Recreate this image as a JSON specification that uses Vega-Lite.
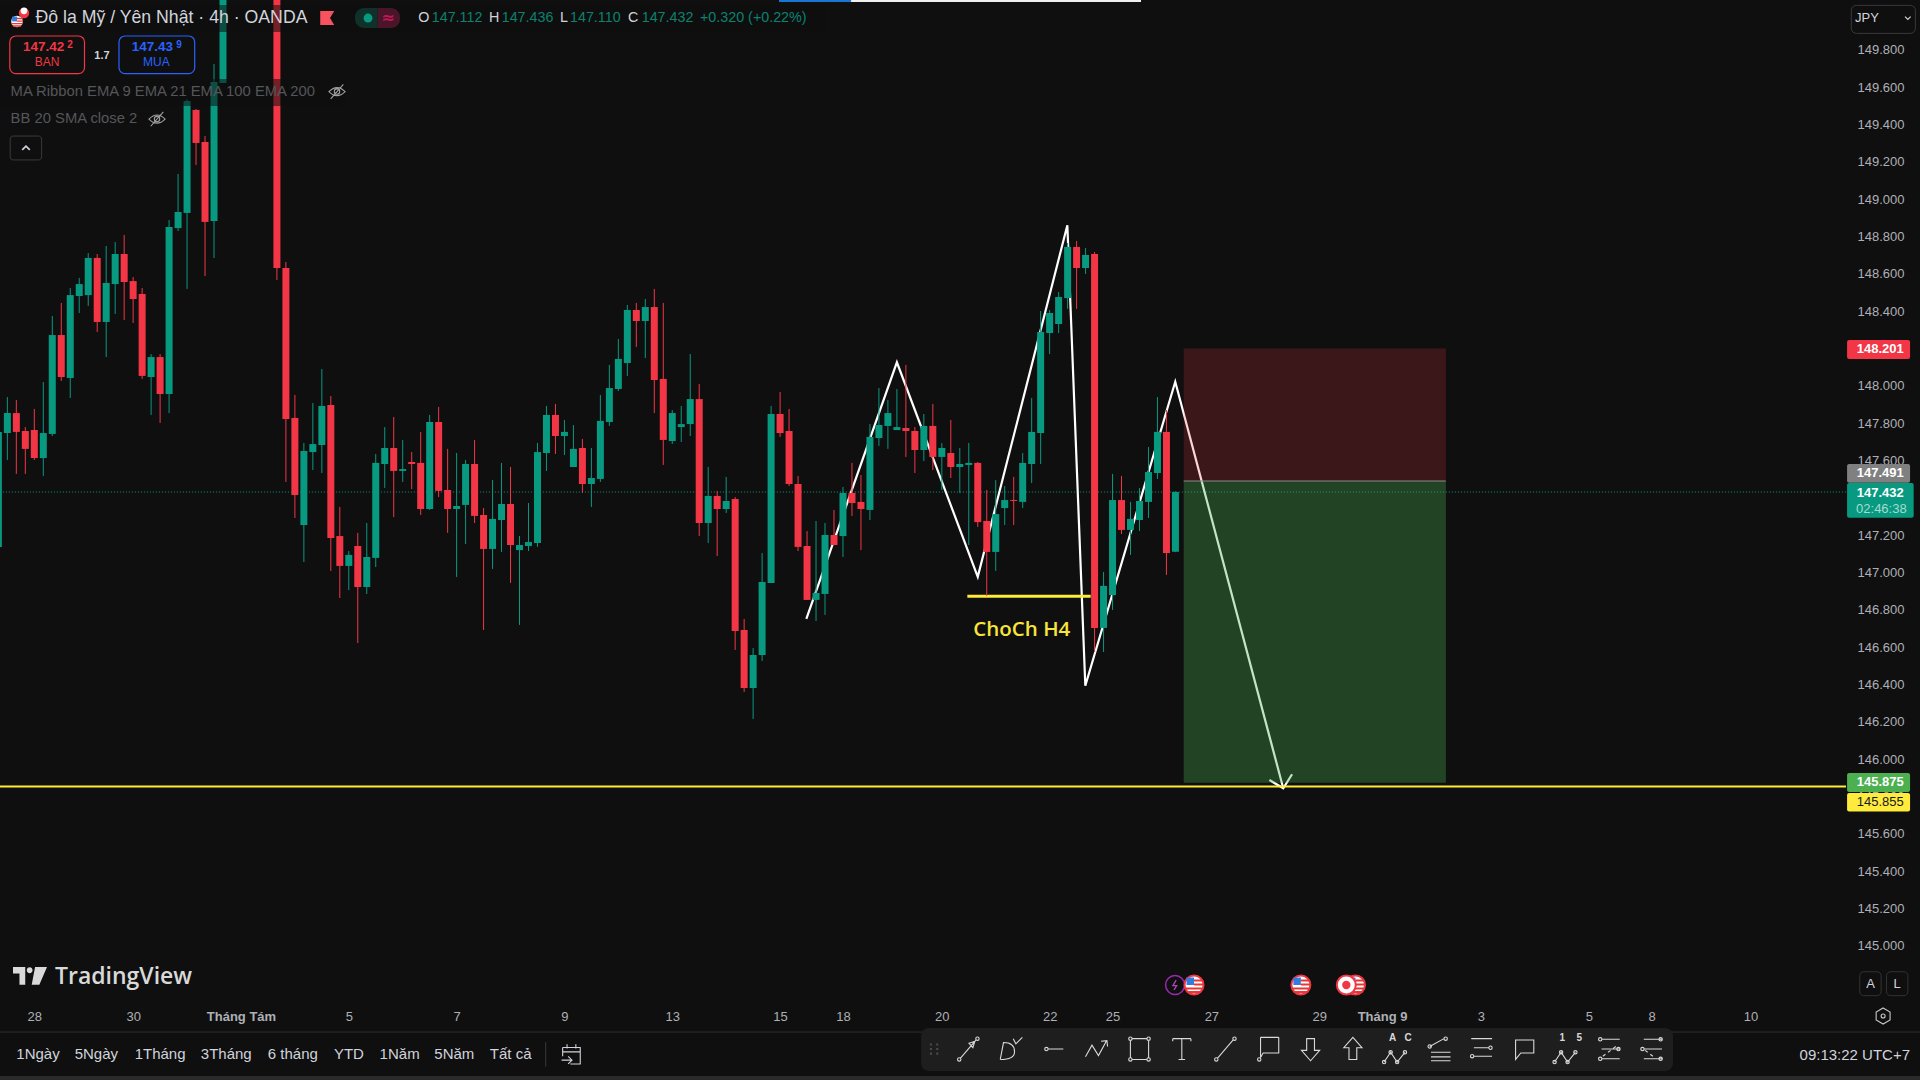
{"$schema":"https://vega.github.io/schema/vega-lite/v6.json","width":1846,"height":1000,"autosize":"none","padding":{"left":0,"top":0,"right":74,"bottom":80},"background":"#0f0f0f","config":{"view":{"stroke":null},"font":"Liberation Sans"},
"datasets":{"ohlc":[
{"i":0,"o":147.138,"h":147.754,"l":147.138,"c":147.754},{"i":1,"o":147.748,"h":147.941,"l":147.604,"c":147.855},{"i":2,"o":147.855,"h":147.925,"l":147.529,"c":147.754},{"i":3,"o":147.759,"h":147.78,"l":147.529,"c":147.663},{"i":4,"o":147.764,"h":147.877,"l":147.604,"c":147.614},{"i":5,"o":147.614,"h":148.021,"l":147.518,"c":147.748},{"i":6,"o":147.743,"h":148.375,"l":147.732,"c":148.273},{"i":7,"o":148.273,"h":148.445,"l":148.027,"c":148.048},{"i":8,"o":148.043,"h":148.525,"l":147.936,"c":148.487},{"i":9,"o":148.482,"h":148.579,"l":148.391,"c":148.546},
{"i":10,"o":148.487,"h":148.712,"l":148.429,"c":148.686},{"i":11,"o":148.686,"h":148.707,"l":148.289,"c":148.343},{"i":12,"o":148.343,"h":148.75,"l":148.155,"c":148.552},{"i":13,"o":148.546,"h":148.771,"l":148.386,"c":148.707},{"i":14,"o":148.707,"h":148.809,"l":148.354,"c":148.557},{"i":15,"o":148.562,"h":148.584,"l":148.338,"c":148.466},{"i":16,"o":148.493,"h":148.525,"l":148.038,"c":148.054},{"i":17,"o":148.048,"h":148.171,"l":147.845,"c":148.155},{"i":18,"o":148.155,"h":148.171,"l":147.802,"c":147.957},{"i":19,"o":147.957,"h":148.889,"l":147.855,"c":148.852},
{"i":20,"o":148.846,"h":149.136,"l":148.83,"c":148.932},{"i":21,"o":148.927,"h":149.537,"l":148.52,"c":149.527},{"i":22,"o":149.479,"h":149.484,"l":149.184,"c":149.302},{"i":23,"o":149.307,"h":149.339,"l":148.589,"c":148.879},{"i":24,"o":148.884,"h":149.725,"l":148.686,"c":149.629},{"i":25,"o":149.623,"h":150.3,"l":149.623,"c":150.2},{"i":31,"o":150.3,"h":150.4,"l":148.568,"c":148.632},{"i":32,"o":148.632,"h":148.664,"l":147.486,"c":147.823},{"i":33,"o":147.829,"h":147.952,"l":147.293,"c":147.416},{"i":34,"o":147.255,"h":147.695,"l":147.057,"c":147.652},
{"i":35,"o":147.646,"h":147.909,"l":147.55,"c":147.689},{"i":36,"o":147.684,"h":148.091,"l":147.534,"c":147.893},{"i":37,"o":147.898,"h":147.946,"l":147.009,"c":147.186},{"i":38,"o":147.196,"h":147.352,"l":146.864,"c":147.036},{"i":39,"o":147.036,"h":147.116,"l":146.907,"c":147.095},{"i":40,"o":147.143,"h":147.213,"l":146.623,"c":146.923},{"i":41,"o":146.923,"h":147.266,"l":146.886,"c":147.084},{"i":42,"o":147.079,"h":147.636,"l":147.03,"c":147.588},{"i":43,"o":147.582,"h":147.78,"l":147.454,"c":147.668},{"i":44,"o":147.668,"h":147.834,"l":147.298,"c":147.545},
{"i":45,"o":147.545,"h":147.711,"l":147.486,"c":147.555},{"i":46,"o":147.593,"h":147.646,"l":147.448,"c":147.582},{"i":47,"o":147.588,"h":147.754,"l":147.309,"c":147.341},{"i":48,"o":147.341,"h":147.845,"l":147.336,"c":147.807},{"i":49,"o":147.807,"h":147.888,"l":147.405,"c":147.438},{"i":50,"o":147.443,"h":147.663,"l":147.213,"c":147.341},{"i":51,"o":147.341,"h":147.641,"l":146.977,"c":147.357},{"i":52,"o":147.363,"h":147.604,"l":147.154,"c":147.582},{"i":53,"o":147.582,"h":147.711,"l":147.266,"c":147.304},{"i":54,"o":147.309,"h":147.346,"l":146.693,"c":147.127},
{"i":55,"o":147.127,"h":147.496,"l":147.02,"c":147.288},{"i":56,"o":147.282,"h":147.588,"l":147.111,"c":147.368},{"i":57,"o":147.368,"h":147.566,"l":146.945,"c":147.148},{"i":58,"o":147.121,"h":147.196,"l":146.72,"c":147.148},{"i":59,"o":147.143,"h":147.373,"l":147.116,"c":147.164},{"i":60,"o":147.159,"h":147.695,"l":147.138,"c":147.646},{"i":61,"o":147.641,"h":147.893,"l":147.545,"c":147.845},{"i":62,"o":147.845,"h":147.904,"l":147.636,"c":147.732},{"i":63,"o":147.732,"h":147.818,"l":147.63,"c":147.754},{"i":64,"o":147.566,"h":147.791,"l":147.566,"c":147.663},
{"i":65,"o":147.668,"h":147.716,"l":147.427,"c":147.475},{"i":66,"o":147.475,"h":147.668,"l":147.352,"c":147.507},{"i":67,"o":147.502,"h":147.952,"l":147.486,"c":147.813},{"i":68,"o":147.807,"h":148.113,"l":147.786,"c":147.989},{"i":69,"o":147.984,"h":148.252,"l":147.973,"c":148.145},{"i":70,"o":148.123,"h":148.434,"l":148.054,"c":148.407},{"i":71,"o":148.407,"h":148.445,"l":148.209,"c":148.348},{"i":72,"o":148.348,"h":148.466,"l":148.15,"c":148.423},{"i":73,"o":148.423,"h":148.52,"l":147.855,"c":148.032},{"i":74,"o":148.038,"h":148.445,"l":147.577,"c":147.711},
{"i":75,"o":147.705,"h":147.871,"l":147.689,"c":147.855},{"i":76,"o":147.78,"h":147.893,"l":147.7,"c":147.796},{"i":77,"o":147.796,"h":148.171,"l":147.732,"c":147.93},{"i":78,"o":147.93,"h":148.011,"l":147.196,"c":147.266},{"i":79,"o":147.266,"h":147.566,"l":147.159,"c":147.411},{"i":80,"o":147.411,"h":147.438,"l":147.089,"c":147.341},{"i":81,"o":147.341,"h":147.513,"l":147.32,"c":147.384},{"i":82,"o":147.395,"h":147.405,"l":146.586,"c":146.688},{"i":83,"o":146.693,"h":146.752,"l":146.361,"c":146.382},{"i":84,"o":146.382,"h":146.596,"l":146.216,"c":146.559},
{"i":85,"o":146.559,"h":147.105,"l":146.527,"c":146.95},{"i":86,"o":146.945,"h":147.893,"l":146.945,"c":147.85},{"i":87,"o":147.85,"h":147.968,"l":147.727,"c":147.748},{"i":88,"o":147.759,"h":147.877,"l":147.464,"c":147.475},{"i":89,"o":147.475,"h":147.518,"l":147.116,"c":147.138},{"i":90,"o":147.143,"h":147.223,"l":146.854,"c":146.854},{"i":91,"o":146.854,"h":147.277,"l":146.741,"c":146.891},{"i":92,"o":146.886,"h":147.266,"l":146.773,"c":147.202},{"i":93,"o":147.202,"h":147.336,"l":147.148,"c":147.148},{"i":94,"o":147.196,"h":147.459,"l":147.084,"c":147.427},
{"i":95,"o":147.427,"h":147.588,"l":147.304,"c":147.373},{"i":96,"o":147.379,"h":147.523,"l":147.121,"c":147.341},{"i":97,"o":147.336,"h":147.796,"l":147.282,"c":147.727},{"i":98,"o":147.721,"h":147.989,"l":147.679,"c":147.791},{"i":99,"o":147.786,"h":147.925,"l":147.663,"c":147.855},{"i":100,"o":147.764,"h":147.984,"l":147.764,"c":147.78},{"i":101,"o":147.775,"h":148.113,"l":147.62,"c":147.759},{"i":102,"o":147.759,"h":147.78,"l":147.534,"c":147.657},{"i":103,"o":147.657,"h":147.85,"l":147.598,"c":147.786},{"i":104,"o":147.786,"h":147.904,"l":147.55,"c":147.62},
{"i":105,"o":147.62,"h":147.695,"l":147.443,"c":147.668},{"i":106,"o":147.641,"h":147.818,"l":147.507,"c":147.566},{"i":107,"o":147.566,"h":147.668,"l":147.427,"c":147.582},{"i":108,"o":147.577,"h":147.695,"l":147.148,"c":147.588},{"i":109,"o":147.588,"h":147.593,"l":147.245,"c":147.271},{"i":110,"o":147.277,"h":147.443,"l":146.875,"c":147.111},{"i":111,"o":147.111,"h":147.496,"l":147.009,"c":147.314},{"i":112,"o":147.346,"h":147.464,"l":147.255,"c":147.389},{"i":113,"o":147.389,"h":147.513,"l":147.255,"c":147.384},{"i":114,"o":147.379,"h":147.641,"l":147.346,"c":147.588},
{"i":115,"o":147.582,"h":147.936,"l":147.48,"c":147.754},{"i":116,"o":147.748,"h":148.402,"l":147.582,"c":148.289},{"i":117,"o":148.284,"h":148.407,"l":148.171,"c":148.391},{"i":118,"o":148.332,"h":148.504,"l":148.284,"c":148.477},{"i":119,"o":148.471,"h":148.766,"l":148.413,"c":148.745},{"i":120,"o":148.745,"h":148.777,"l":148.413,"c":148.632},{"i":121,"o":148.632,"h":148.739,"l":148.6,"c":148.702},{"i":122,"o":148.707,"h":148.718,"l":146.575,"c":146.704},{"i":123,"o":146.704,"h":147.004,"l":146.575,"c":146.929},{"i":124,"o":146.88,"h":147.529,"l":146.8,"c":147.389},
{"i":125,"o":147.389,"h":147.518,"l":147.207,"c":147.229},{"i":126,"o":147.229,"h":147.379,"l":147.095,"c":147.288},{"i":127,"o":147.282,"h":147.454,"l":147.223,"c":147.384},{"i":128,"o":147.379,"h":147.673,"l":147.293,"c":147.539},{"i":129,"o":147.534,"h":147.941,"l":147.502,"c":147.754},{"i":130,"o":147.754,"h":147.871,"l":146.988,"c":147.105},{"i":131,"o":147.112,"h":147.436,"l":147.11,"c":147.432}
]},
"encoding":{
"x":{"field":"i","type":"quantitative","title":null,"scale":{"domain":[0.1814,205.63],"nice":false,"zero":false,"padding":0},"axis":{"orient":"bottom","values":[4,15,27,39,51,63,75,87,94,105,117,124,135,147,154,165,177,184,195],"labelExpr":"{4:'28',15:'30',27:'Tháng Tám',39:'5',51:'7',63:'9',75:'13',87:'15',94:'18',105:'20',117:'22',124:'25',135:'27',147:'29',154:'Tháng 9',165:'3',177:'5',184:'8',195:'10'}[datum.value]","labelFontWeight":{"condition":{"test":"datum.value==27||datum.value==154","value":"bold"},"value":"normal"},"domain":false,"ticks":false,"grid":false,"labelColor":"#aeb0b6","labelFontSize":13,"labelPadding":10,"labelOverlap":false,"labelBound":false,"labelFlush":false,"labelFont":"Liberation Sans"}},
"y":{"field":"p","type":"quantitative","title":null,"scale":{"domain":[144.7107,150.0678],"nice":false,"zero":false,"padding":0},"axis":{"orient":"right","values":[145,145.2,145.4,145.6,145.8,146,146.2,146.4,146.6,146.8,147,147.2,147.4,147.6,147.8,148,148.2,148.4,148.6,148.8,149,149.2,149.4,149.6,149.8],"format":".3f","domain":false,"ticks":false,"grid":false,"labelColor":"#aeb0b6","labelFontSize":13,"labelPadding":11,"labelOverlap":false,"labelBound":false,"labelFlush":false,"labelFont":"Liberation Sans"}}
},
"layer":[
{"data":{"values":[{"i":0.5,"i2":205.63,"p":147.432}]},"mark":{"type":"rule","color":"#089981","strokeWidth":1,"strokeDash":[1,2]},"encoding":{"x2":{"field":"i2"}}},
{"data":{"values":[{"k":1,"seg":"z","i":89.92,"p":146.752},{"k":2,"seg":"z","i":100,"p":148.127},{"k":3,"seg":"z","i":109,"p":146.978},{"k":4,"seg":"z","i":118.97,"p":148.861},{"k":5,"seg":"z","i":120.97,"p":146.394},{"k":6,"seg":"z","i":130.98,"p":148.023},{"k":7,"seg":"z","i":143,"p":145.845},{"k":1,"seg":"h","i":141.46,"p":145.889},{"k":2,"seg":"h","i":143,"p":145.845},{"k":3,"seg":"h","i":143.98,"p":145.92}]},"mark":{"type":"line","color":"#ffffff","strokeWidth":2.2,"strokeJoin":"miter"},"encoding":{"detail":{"field":"seg"},"order":{"field":"k"}}},
{"data":{"values":[{"i":131.92,"i2":161.1,"p":148.201,"p2":147.491}]},"mark":{"type":"rect","fill":"#f23645","opacity":0.2},"encoding":{"x2":{"field":"i2"},"y2":{"field":"p2"}}},
{"data":{"values":[{"i":131.92,"i2":161.1,"p":147.491,"p2":145.875}]},"mark":{"type":"rect","fill":"#4caf50","opacity":0.33},"encoding":{"x2":{"field":"i2"},"y2":{"field":"p2"}}},
{"data":{"values":[{"i":131.92,"i2":161.1,"p":147.491}]},"mark":{"type":"rule","color":"#8a8a8a","strokeWidth":1},"encoding":{"x2":{"field":"i2"}}},
{"data":{"values":[{"i":107.84,"i2":121.57,"p":146.873}]},"mark":{"type":"rule","color":"#ffeb3b","strokeWidth":3},"encoding":{"x2":{"field":"i2"}}},
{"data":{"values":[{"i":0.1814,"i2":205.63,"p":145.855}]},"mark":{"type":"rule","color":"#ffeb3b","strokeWidth":2},"encoding":{"x2":{"field":"i2"}}},
{"data":{"name":"ohlc"},"mark":{"type":"rule","strokeWidth":1,"clip":true},"encoding":{"y":{"field":"l","type":"quantitative","title":null,"scale":{"domain":[144.7107,150.0678],"nice":false,"zero":false,"padding":0},"axis":{"orient":"right","values":[145,145.2,145.4,145.6,145.8,146,146.2,146.4,146.6,146.8,147,147.2,147.4,147.6,147.8,148,148.2,148.4,148.6,148.8,149,149.2,149.4,149.6,149.8],"format":".3f","domain":false,"ticks":false,"grid":false,"labelColor":"#aeb0b6","labelFontSize":13,"labelPadding":11,"labelOverlap":false,"labelBound":false,"labelFlush":false,"labelFont":"Liberation Sans"}},"y2":{"field":"h"},"color":{"condition":{"test":"datum.c>=datum.o","value":"#089981"},"value":"#f23645"}}},
{"data":{"name":"ohlc"},"mark":{"type":"bar","size":7,"clip":true},"encoding":{"y":{"field":"o","type":"quantitative","stack":null,"title":null,"scale":{"domain":[144.7107,150.0678],"nice":false,"zero":false,"padding":0},"axis":{"orient":"right","values":[145,145.2,145.4,145.6,145.8,146,146.2,146.4,146.6,146.8,147,147.2,147.4,147.6,147.8,148,148.2,148.4,148.6,148.8,149,149.2,149.4,149.6,149.8],"format":".3f","domain":false,"ticks":false,"grid":false,"labelColor":"#aeb0b6","labelFontSize":13,"labelPadding":11,"labelOverlap":false,"labelBound":false,"labelFlush":false,"labelFont":"Liberation Sans"}},"y2":{"field":"c"},"color":{"condition":{"test":"datum.c>=datum.o","value":"#089981"},"value":"#f23645"}}},
{"data":{"values":[{"i":108.5,"p":146.692,"t":"ChoCh H4"}]},"mark":{"type":"text","align":"left","baseline":"middle","font":"Open Sans","fontSize":20.5,"fontWeight":600,"color":"#f7e53b"},"encoding":{"text":{"field":"t"}}},
{"data":{"values":[{"i":0.1814,"i2":92,"p":150.041,"p2":149.896},{"i":0.1814,"i2":38.7,"p":149.645,"p2":149.5}]},"mark":{"type":"rect","fill":"#0f0f0f","opacity":0.55},"encoding":{"x2":{"field":"i2"},"y2":{"field":"p2"}}},
{"data":{"values":[{"i":86.88,"i2":94.9,"p":150.068,"p2":150.057}]},"mark":{"type":"rect","fill":"#1976d2"},"encoding":{"x2":{"field":"i2"},"y2":{"field":"p2"}}},
{"data":{"values":[{"i":94.9,"i2":127.17,"p":150.068,"p2":150.057}]},"mark":{"type":"rect","fill":"#f0f0f0"},"encoding":{"x2":{"field":"i2"},"y2":{"field":"p2"}}},
{"data":{"values":[{"i":0.1814,"i2":213.87,"p":144.539}]},"mark":{"type":"rule","color":"#2e2e2e","strokeWidth":1},"encoding":{"x2":{"field":"i2"}}},
{"data":{"values":[{"i":0.1814,"i2":213.87,"p":144.303,"p2":144.282}]},"mark":{"type":"rect","fill":"#2a2a2a"},"encoding":{"x2":{"field":"i2"},"y2":{"field":"p2"}}},
{"data":{"values":[{"i":102.69,"i2":186.38,"p":144.561,"p2":144.33}]},"mark":{"type":"rect","fill":"#1e1e1e","cornerRadius":8},"encoding":{"x2":{"field":"i2"},"y2":{"field":"p2"}}},
{"data":{"values":[{"i":60.92,"p":144.486,"p2":144.354}]},"mark":{"type":"rule","color":"#3a3a3a","strokeWidth":1},"encoding":{"y2":{"field":"p2"}}},
{"data":{"values":[{"i":205.75,"i2":212.76,"p":148.246,"p2":148.145}]},"mark":{"type":"rect","fill":"#f23645","cornerRadius":2},"encoding":{"x2":{"field":"i2"},"y2":{"field":"p2"}}},
{"data":{"values":[{"i":205.75,"i2":212.76,"p":147.582,"p2":147.482}]},"mark":{"type":"rect","fill":"#808080","cornerRadius":2},"encoding":{"x2":{"field":"i2"},"y2":{"field":"p2"}}},
{"data":{"values":[{"i":205.75,"i2":213.16,"p":147.48,"p2":147.294}]},"mark":{"type":"rect","fill":"#089981","cornerRadius":2},"encoding":{"x2":{"field":"i2"},"y2":{"field":"p2"}}},
{"data":{"values":[{"i":205.75,"i2":212.76,"p":145.927,"p2":145.825}]},"mark":{"type":"rect","fill":"#4caf50","cornerRadius":2},"encoding":{"x2":{"field":"i2"},"y2":{"field":"p2"}}},
{"data":{"values":[{"i":205.75,"i2":212.76,"p":145.82,"p2":145.72}]},"mark":{"type":"rect","fill":"#ffeb3b","cornerRadius":2},"encoding":{"x2":{"field":"i2"},"y2":{"field":"p2"}}},
{"data":{"values":[{"i":206.83,"p":148.196,"t":"148.201"},{"i":206.83,"p":147.534,"t":"147.491"},{"i":206.83,"p":147.427,"t":"147.432"},{"i":206.83,"p":145.876,"t":"145.875"}]},"mark":{"type":"text","align":"left","baseline":"middle","fontSize":13,"fontWeight":"bold","color":"#ffffff"},"encoding":{"text":{"field":"t"}}},
{"data":{"values":[{"i":206.83,"p":145.771,"t":"145.855"}]},"mark":{"type":"text","align":"left","baseline":"middle","fontSize":13,"color":"#131722"},"encoding":{"text":{"field":"t"}}},
{"data":{"values":[{"i":206.75,"p":147.341,"t":"02:46:38"}]},"mark":{"type":"text","align":"left","baseline":"middle","fontSize":13,"color":"#a5dccf"},"encoding":{"text":{"field":"t"}}},
{"data":{"values":[{"i":4.132,"p":149.971,"t":"Đô la Mỹ / Yên Nhật · 4h · OANDA"}]},"mark":{"type":"text","align":"left","baseline":"middle","fontSize":17.7,"color":"#d1d4dc"},"encoding":{"text":{"field":"t"}}},
{"data":{"values":[{"i":46.74,"p":149.971,"t":"O"},{"i":54.61,"p":149.971,"t":"H"},{"i":62.51,"p":149.971,"t":"L"},{"i":70.08,"p":149.971,"t":"C"}]},"mark":{"type":"text","align":"left","baseline":"middle","fontSize":14.3,"color":"#d1d4dc"},"encoding":{"text":{"field":"t"}}},
{"data":{"values":[{"i":48.23,"p":149.971,"t":"147.112"},{"i":56.02,"p":149.971,"t":"147.436"},{"i":63.62,"p":149.971,"t":"147.110"},{"i":71.6,"p":149.971,"t":"147.432"},{"i":78.09,"p":149.971,"t":"+0.320 (+0.22%)"}]},"mark":{"type":"text","align":"left","baseline":"middle","fontSize":14.3,"color":"#0b8270"},"encoding":{"text":{"field":"t"}}},
{"data":{"values":[{"i":36.6,"p":149.971}]},"mark":{"type":"point","filled":true,"opacity":1,"shape":"M-1,-1L1,-1L.4,0L1,1L-1,1Z","size":196,"color":"#f7525f"}},
{"data":{"values":[{"i":39.69,"i2":42.2,"p":150.025,"p2":149.918}]},"mark":{"type":"rect","fill":"#10302a","cornerRadiusTopLeft":9,"cornerRadiusBottomLeft":9},"encoding":{"x2":{"field":"i2"},"y2":{"field":"p2"}}},
{"data":{"values":[{"i":42.2,"i2":44.7,"p":150.025,"p2":149.918}]},"mark":{"type":"rect","fill":"#4b1529","cornerRadiusTopRight":9,"cornerRadiusBottomRight":9},"encoding":{"x2":{"field":"i2"},"y2":{"field":"p2"}}},
{"data":{"values":[{"i":41.14,"p":149.971}]},"mark":{"type":"point","filled":true,"opacity":1,"shape":"circle","size":80,"color":"#089981"}},
{"data":{"values":[{"i":43.37,"p":149.971,"t":"≈"}]},"mark":{"type":"text","align":"center","baseline":"middle","fontSize":16,"fontWeight":"bold","color":"#c2185b","font":"DejaVu Sans"},"encoding":{"text":{"field":"t"}}},
{"data":{"values":[{"i":1.272,"i2":9.586,"p":149.875,"p2":149.673}]},"mark":{"type":"rect","fill":"#0f0f0f","stroke":"#f23645","strokeWidth":1.2,"cornerRadius":6},"encoding":{"x2":{"field":"i2"},"y2":{"field":"p2"}}},
{"data":{"values":[{"i":13.426,"i2":21.85,"p":149.875,"p2":149.673}]},"mark":{"type":"rect","fill":"#0f0f0f","stroke":"#2962ff","strokeWidth":1.2,"cornerRadius":6},"encoding":{"x2":{"field":"i2"},"y2":{"field":"p2"}}},
{"data":{"values":[{"i":2.73,"p":149.816,"t":"147.42"}]},"mark":{"type":"text","align":"left","baseline":"middle","fontSize":13.5,"fontWeight":"bold","color":"#f23645"},"encoding":{"text":{"field":"t"}}},
{"data":{"values":[{"i":7.67,"p":149.825,"t":"2"}]},"mark":{"type":"text","align":"left","baseline":"middle","fontSize":10,"fontWeight":"bold","color":"#f23645"},"encoding":{"text":{"field":"t"}}},
{"data":{"values":[{"i":5.412,"p":149.737,"t":"BAN"}]},"mark":{"type":"text","align":"center","baseline":"middle","fontSize":12,"color":"#f23645"},"encoding":{"text":{"field":"t"}}},
{"data":{"values":[{"i":14.85,"p":149.816,"t":"147.43"}]},"mark":{"type":"text","align":"left","baseline":"middle","fontSize":13.5,"fontWeight":"bold","color":"#2962ff"},"encoding":{"text":{"field":"t"}}},
{"data":{"values":[{"i":19.8,"p":149.825,"t":"9"}]},"mark":{"type":"text","align":"left","baseline":"middle","fontSize":10,"fontWeight":"bold","color":"#2962ff"},"encoding":{"text":{"field":"t"}}},
{"data":{"values":[{"i":17.58,"p":149.737,"t":"MUA"}]},"mark":{"type":"text","align":"center","baseline":"middle","fontSize":12,"color":"#2962ff"},"encoding":{"text":{"field":"t"}}},
{"data":{"values":[{"i":11.534,"p":149.768,"t":"1.7"}]},"mark":{"type":"text","align":"center","baseline":"middle","fontSize":11,"fontWeight":"bold","color":"#d1d4dc"},"encoding":{"text":{"field":"t"}}},
{"data":{"values":[{"i":1.361,"p":149.577,"t":"MA Ribbon EMA 9 EMA 21 EMA 100 EMA 200"},{"i":1.361,"p":149.43,"t":"BB 20 SMA close 2"}]},"mark":{"type":"text","align":"left","baseline":"middle","fontSize":14.8,"color":"#55565a"},"encoding":{"text":{"field":"t"}}},
{"data":{"values":[{"i":37.69,"p":149.577},{"i":17.656,"p":149.43}]},"mark":{"type":"point","filled":false,"opacity":1,"shape":"M-.9,0Q0,-.9 .9,0Q0,.9 -.9,0ZM-.3,0a.3,.3 0 1,0 .6,0a.3,.3 0 1,0 -.6,0ZM-.7,.8L.7,-.8","size":324,"color":"#a0a0a0","strokeWidth":1.1}},
{"data":{"values":[{"i":1.317,"i2":4.811,"p":149.339,"p2":149.211}]},"mark":{"type":"rect","fill":"#0f0f0f","stroke":"#3a3a3a","strokeWidth":1,"cornerRadius":3},"encoding":{"x2":{"field":"i2"},"y2":{"field":"p2"}}},
{"data":{"values":[{"i":3.075,"p":149.275}]},"mark":{"type":"point","filled":false,"opacity":1,"shape":"M-.8,.4L0,-.4L.8,.4","size":90,"color":"#d1d4dc","strokeWidth":1.6}},
{"data":{"values":[{"i":2.853,"p":149.998}]},"mark":{"type":"point","filled":true,"opacity":1,"shape":"circle","size":110,"color":"#f23645"}},
{"data":{"values":[{"i":2.853,"p":150.01}]},"mark":{"type":"point","filled":true,"opacity":1,"shape":"circle","size":45,"color":"#ffffff"}},
{"data":{"values":[{"i":2.073,"p":149.953}]},"mark":{"type":"point","filled":true,"opacity":1,"shape":"circle","size":133,"color":"#ffffff"}},
{"data":{"values":[{"i":2.073,"p":149.953}]},"mark":{"type":"point","filled":true,"opacity":1,"shape":"M-.75,-.75L0,-.75L0,0L-.75,0Z","size":169,"color":"#2f7de1"}},
{"data":{"values":[{"i":2.073,"p":149.953}]},"mark":{"type":"point","filled":true,"opacity":1,"shape":"M0,-.55L.9,-.55L.9,-.35L0,-.35ZM0,-.15L.95,-.15L.95,.05L0,.05ZM-.9,.25L.9,.25L.9,.45L-.9,.45ZM-.65,.6L.65,.6L.65,.8L-.65,.8Z","size":169,"color":"#e53935"}},
{"data":{"values":[{"i":130.96,"p":144.791}]},"mark":{"type":"point","filled":true,"opacity":1,"shape":"circle","size":360,"fill":"#0f0f0f","stroke":"#9c27b0","strokeWidth":1.5}},
{"data":{"values":[{"i":130.96,"p":144.791}]},"mark":{"type":"point","filled":false,"opacity":1,"shape":"M.2,-.9L-.4,.1L.3,.1L-.2,.9","size":120,"color":"#ab47bc","strokeWidth":1.3}},
{"data":{"values":[{"i":133.07,"p":144.791},{"i":144.96,"p":144.791},{"i":151.04,"p":144.791}]},"mark":{"type":"point","filled":true,"opacity":1,"shape":"circle","size":360,"fill":"#ffffff","stroke":"#f23645","strokeWidth":2}},
{"data":{"values":[{"i":133.07,"p":144.791},{"i":144.96,"p":144.791},{"i":151.04,"p":144.791}]},"mark":{"type":"point","filled":true,"opacity":1,"shape":"M-.75,-.75L0,-.75L0,0L-.75,0Z","size":400,"color":"#2f7de1"}},
{"data":{"values":[{"i":133.07,"p":144.791},{"i":144.96,"p":144.791},{"i":151.04,"p":144.791}]},"mark":{"type":"point","filled":true,"opacity":1,"shape":"M0,-.55L.9,-.55L.9,-.35L0,-.35ZM0,-.15L.95,-.15L.95,.05L0,.05ZM-.9,.25L.9,.25L.9,.45L-.9,.45ZM-.65,.6L.65,.6L.65,.8L-.65,.8Z","size":400,"color":"#e53935"}},
{"data":{"values":[{"i":150.02,"p":144.791}]},"mark":{"type":"point","filled":true,"opacity":1,"shape":"circle","size":360,"fill":"#ffffff","stroke":"#f23645","strokeWidth":2}},
{"data":{"values":[{"i":150.02,"p":144.791}]},"mark":{"type":"point","filled":true,"opacity":1,"shape":"circle","size":70,"color":"#f23645"}},
{"data":{"values":[{"i":3.52,"p":144.84}]},"mark":{"type":"point","filled":true,"opacity":1,"shape":"M-1,-.52L-.28,-.52L-.28,.52L-.62,.52L-.62,-.14L-1,-.14ZM-.19,-.33a.17,.17 0 1,0 .34,0a.17,.17 0 1,0 -.34,0ZM.3,-.52L1,-.52L.55,.52L.1,.52Z","size":1156,"color":"#d9d9d9"}},
{"data":{"values":[{"i":6.303,"p":144.836,"t":"TradingView"}]},"mark":{"type":"text","align":"left","baseline":"middle","font":"Open Sans","fontSize":23,"fontWeight":600,"color":"#d9d9d9"},"encoding":{"text":{"field":"t"}}},
{"data":{"values":[{"i":1.996,"p":144.42,"t":"1Ngày"},{"i":8.495,"p":144.42,"t":"5Ngày"},{"i":15.17,"p":144.42,"t":"1Tháng"},{"i":22.53,"p":144.42,"t":"3Tháng"},{"i":29.99,"p":144.42,"t":"6 tháng"},{"i":37.34,"p":144.42,"t":"YTD"},{"i":42.43,"p":144.42,"t":"1Năm"},{"i":48.52,"p":144.42,"t":"5Năm"},{"i":54.7,"p":144.42,"t":"Tất cả"}]},"mark":{"type":"text","align":"left","baseline":"middle","fontSize":15,"color":"#d1d4dc"},"encoding":{"text":{"field":"t"}}},
{"data":{"values":[{"i":63.78,"p":144.421}]},"mark":{"type":"point","filled":false,"opacity":1,"shape":"M-.8,-.6L.8,-.6L.8,.9L-.1,.9M-.8,-.6L-.8,.2M-.8,-.2L.8,-.2M-.4,-.9L-.4,-.5M.4,-.9L.4,-.5M-.9,.55L0,.55M-.3,.2L.05,.55L-.3,.9","size":484,"color":"#d1d4dc","strokeWidth":1.1}},
{"data":{"values":[{"i":212.76,"p":144.416,"t":"09:13:22 UTC+7"}]},"mark":{"type":"text","align":"right","baseline":"middle","fontSize":15,"color":"#d1d4dc"},"encoding":{"text":{"field":"t"}}},
{"data":{"values":[{"i":207.16,"i2":209.54,"p":144.862,"p2":144.734},{"i":210.14,"i2":212.52,"p":144.862,"p2":144.734}]},"mark":{"type":"rect","fill":"#0f0f0f","stroke":"#333333","strokeWidth":1,"cornerRadius":4},"encoding":{"x2":{"field":"i2"},"y2":{"field":"p2"}}},
{"data":{"values":[{"i":208.36,"p":144.796,"t":"A"},{"i":211.32,"p":144.796,"t":"L"}]},"mark":{"type":"text","align":"center","baseline":"middle","fontSize":13,"color":"#d1d4dc"},"encoding":{"text":{"field":"t"}}},
{"data":{"values":[{"i":209.76,"p":144.625}]},"mark":{"type":"point","filled":false,"opacity":1,"shape":"M0,-1L.87,-.5L.87,.5L0,1L-.87,.5L-.87,-.5ZM-.25,0a.25,.25 0 1,0 .5,0a.25,.25 0 1,0 -.5,0Z","size":256,"color":"#c8c8c8","strokeWidth":1.1}},
{"data":{"values":[{"i":206.22,"i2":213.35,"p":150.039,"p2":149.889}]},"mark":{"type":"rect","fill":"#0f0f0f","stroke":"#3a3a3a","strokeWidth":1,"cornerRadius":5},"encoding":{"x2":{"field":"i2"},"y2":{"field":"p2"}}},
{"data":{"values":[{"i":206.64,"p":149.971,"t":"JPY"}]},"mark":{"type":"text","align":"left","baseline":"middle","fontSize":13,"color":"#d1d4dc"},"encoding":{"text":{"field":"t"}}},
{"data":{"values":[{"i":212.51,"p":149.971}]},"mark":{"type":"point","filled":false,"opacity":1,"shape":"M-.8,-.4L0,.4L.8,-.4","size":49,"color":"#d1d4dc","strokeWidth":1.2}},
{"data":{"values":[{"i":104.14,"p":144.448}]},"mark":{"type":"point","filled":true,"opacity":1,"shape":"M-.6,-.8h.3v.3h-.3ZM.3,-.8h.3v.3h-.3ZM-.6,-.15h.3v.3h-.3ZM.3,-.15h.3v.3h-.3ZM-.6,.5h.3v.3h-.3ZM.3,.5h.3v.3h-.3Z","size":196,"color":"#4a4a4a"}},
{"data":{"values":[{"i":107.95,"p":144.448,"t":"arrow"},{"i":112.66,"p":144.448,"t":"brush"},{"i":117.51,"p":144.448,"t":"ray"},{"i":122.29,"p":144.448,"t":"path"},{"i":127,"p":144.448,"t":"rect"},{"i":131.71,"p":144.448,"t":"text"},{"i":136.56,"p":144.448,"t":"line"},{"i":141.34,"p":144.448,"t":"note"},{"i":146.04,"p":144.448,"t":"down"},{"i":150.75,"p":144.448,"t":"up"},{"i":155.53,"p":144.42,"t":"abcd"},{"i":160.31,"p":144.448,"t":"fib"},{"i":165.08,"p":144.448,"t":"channel"},{"i":169.87,"p":144.448,"t":"comment"},{"i":174.5,"p":144.42,"t":"wave"},{"i":179.29,"p":144.448,"t":"pitch1"},{"i":183.99,"p":144.448,"t":"pitch2"}]},"mark":{"type":"point","filled":false,"opacity":1,"size":676,"color":"#d9d9d9","strokeWidth":1.1},"encoding":{"shape":{"field":"t","type":"nominal","legend":null,"scale":{"domain":["arrow","brush","ray","path","rect","text","line","note","down","up","abcd","fib","channel","comment","wave","pitch1","pitch2"],"range":[
"M-.83,.8a.13,.13 0 1,0 .26,0a.13,.13 0 1,0 -.26,0M-.6,.7L.6,-.7M.57,-.8a.13,.13 0 1,0 .26,0a.13,.13 0 1,0 -.26,0M.05,-.45L.5,-.6L.35,-.1Z",
"M-.8,.8L-.55,-.5Q.3,-.5 .3,.2Q.3,.8 -.8,.8M.2,-.8L.4,-.4L.9,-.9",
"M-.73,0a.13,.13 0 1,0 .26,0a.13,.13 0 1,0 -.26,0M-.47,0L.7,0",
"M-.9,.6L-.4,-.3L.1,.5L.7,-.6M.3,-.6L.75,-.65L.8,-.2",
"M-.6,-.8L.6,-.8M.7,-.7L.7,.7M.6,.8L-.6,.8M-.7,.7L-.7,-.7M-.83,-.8a.13,.13 0 1,0 .26,0a.13,.13 0 1,0 -.26,0M.57,-.8a.13,.13 0 1,0 .26,0a.13,.13 0 1,0 -.26,0M.57,.8a.13,.13 0 1,0 .26,0a.13,.13 0 1,0 -.26,0M-.83,.8a.13,.13 0 1,0 .26,0a.13,.13 0 1,0 -.26,0",
"M-.7,-.8L.7,-.8M0,-.8L0,.8M-.25,.8L.25,.8M-.7,-.8L-.7,-.6M.7,-.8L.7,-.6",
"M-.83,.8a.13,.13 0 1,0 .26,0a.13,.13 0 1,0 -.26,0M-.6,.7L.6,-.7M.57,-.8a.13,.13 0 1,0 .26,0a.13,.13 0 1,0 -.26,0",
"M-.6,-.9L.8,-.9M.8,-.9L.8,.3L-.4,.3L-.6,.65M-.6,-.9L-.6,.65M-.83,.8a.13,.13 0 1,0 .26,0a.13,.13 0 1,0 -.26,0",
"M-.3,-.8L.3,-.8L.3,.1L.7,.1L0,.9L-.7,.1L-.3,.1Z",
"M-.3,.8L.3,.8L.3,-.1L.7,-.1L0,-.9L-.7,-.1L-.3,-.1Z",
"M-.9,.6L-.4,-.15L.1,.6L.7,-.15M-1.03,.6a.13,.13 0 1,0 .26,0a.13,.13 0 1,0 -.26,0M-.53,-.15a.13,.13 0 1,0 .26,0a.13,.13 0 1,0 -.26,0M-.03,.6a.13,.13 0 1,0 .26,0a.13,.13 0 1,0 -.26,0M.57,-.15a.13,.13 0 1,0 .26,0a.13,.13 0 1,0 -.26,0",
"M-.7,-.2L.4,-.8M-.83,-.2a.13,.13 0 1,0 .26,0a.13,.13 0 1,0 -.26,0M.4,-.8a.13,.13 0 1,0 .26,0a.13,.13 0 1,0 -.26,0M-.6,.25L.9,.25M-.6,.6L.9,.6M-.6,.9L.9,.9",
"M-.8,-.8L.8,-.8M-.6,-.1L.55,-.1M.55,-.1a.13,.13 0 1,0 .26,0a.13,.13 0 1,0 -.26,0M-.6,.55L.8,.55M-.86,.55a.13,.13 0 1,0 .26,0a.13,.13 0 1,0 -.26,0",
"M-.7,-.7L.7,-.7L.7,.3L-.3,.3L-.7,.8Z",
"M-.9,.6L-.4,-.15L.1,.6L.7,-.15M-1.03,.6a.13,.13 0 1,0 .26,0a.13,.13 0 1,0 -.26,0M-.53,-.15a.13,.13 0 1,0 .26,0a.13,.13 0 1,0 -.26,0M-.03,.6a.13,.13 0 1,0 .26,0a.13,.13 0 1,0 -.26,0M.57,-.15a.13,.13 0 1,0 .26,0a.13,.13 0 1,0 -.26,0",
"M-.6,-.75L.8,-.75M-.83,-.75a.13,.13 0 1,0 .26,0a.13,.13 0 1,0 -.26,0M-.6,0L.8,0M.57,0a.13,.13 0 1,0 .26,0a.13,.13 0 1,0 -.26,0M-.6,.75L.8,.75M-.83,.75a.13,.13 0 1,0 .26,0a.13,.13 0 1,0 -.26,0M-.5,.55L-.3,.4M-.1,.25L.1,.1M.3,-.05L.5,-.2",
"M-.6,-.75L.8,-.75M.57,-.75a.13,.13 0 1,0 .26,0a.13,.13 0 1,0 -.26,0M-.6,0L.8,0M-.83,0a.13,.13 0 1,0 .26,0a.13,.13 0 1,0 -.26,0M-.6,.75L.8,.75M.57,.75a.13,.13 0 1,0 .26,0a.13,.13 0 1,0 -.26,0M-.5,.1L-.3,.25M-.1,.4L.1,.55"]}}}},
{"data":{"values":[{"i":155.17,"p":144.507,"t":"A"},{"i":156.89,"p":144.507,"t":"C"},{"i":174.06,"p":144.507,"t":"1"},{"i":175.95,"p":144.507,"t":"5"}]},"mark":{"type":"text","align":"center","baseline":"middle","fontSize":10,"fontWeight":"bold","color":"#d9d9d9"},"encoding":{"text":{"field":"t"}}}
]}
